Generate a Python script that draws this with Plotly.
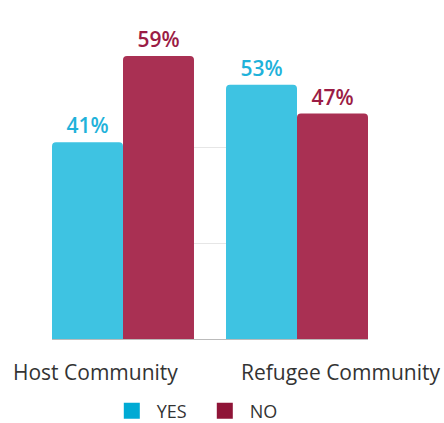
import plotly.graph_objects as go

categories = ["Host Community", "Refugee Community"]
yes_values = [41, 53]
no_values = [59, 47]
series_names = ["YES", "NO"]

bar_colors = ["#3ec3e2", "#a93053"]
label_colors = ["#1fb2da", "#9b1c45"]
legend_colors = ["#00aad4", "#8f1437"]
label_shifts = [-28, 43]

fig = go.Figure()
for name, vals, col, lcol in zip(series_names, [yes_values, no_values], bar_colors, label_colors):
    fig.add_trace(go.Bar(
        name=name, x=categories, y=vals, showlegend=False,
        marker=dict(color=col, line=dict(width=0), cornerradius=4),
        texttemplate="%{y}%", textposition="outside", cliponaxis=False,
        textfont=dict(color=lcol, size=21, family="Open Sans", weight=600),
    ))

# legend entries with square swatches
for name, col in zip(series_names, legend_colors):
    fig.add_trace(go.Scatter(
        name=name, x=[None], y=[None], mode="markers",
        marker=dict(symbol="square", size=18, color=col),
    ))

for cat, shift in zip(categories, label_shifts):
    fig.add_annotation(x=cat, y=0, yref="y", text=cat, showarrow=False,
                       xshift=shift, yshift=-33, yanchor="middle",
                       font=dict(size=21, color="#333333", family="Open Sans"))

g = 0.184
fig.update_layout(
    barmode="group", bargap=g, bargroupgap=0,
    width=444, height=423,
    margin=dict(l=52, r=76, t=56, b=84),
    plot_bgcolor="white", paper_bgcolor="white",
    font=dict(family="Open Sans", color="#333333"),
    xaxis=dict(range=[-0.5 + g / 2, 1.5 - g / 2], showticklabels=False, showgrid=False,
               showline=True, linecolor="#bbbbbb", linewidth=1, zeroline=False),
    yaxis=dict(range=[0, 59], tickvals=[20, 40], showticklabels=False,
               gridcolor="#e6e6e6", gridwidth=1, zeroline=False),
    legend=dict(orientation="h", xref="container", x=0.45, xanchor="center",
                yref="container", y=0.028, yanchor="middle",
                font=dict(size=18, color="#333333"), itemwidth=40,
                entrywidth=38, entrywidthmode="pixels"),
    showlegend=True,
)

fig.write_html("out.html", config={"displayModeBar": False},
               post_script="document.body.style.margin='0';")
